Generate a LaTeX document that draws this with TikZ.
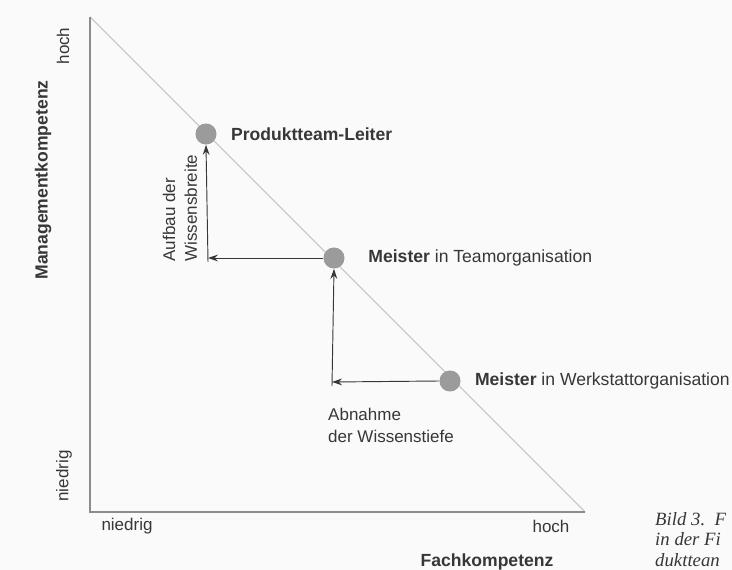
\documentclass[tikz,border=0pt]{standalone}
\usepackage{fontspec}
\setmainfont{Liberation Sans}
\newfontfamily\captionfont{Liberation Serif}
\usetikzlibrary{arrows.meta,positioning}
\definecolor{paperbg}{RGB}{250,250,250}
\definecolor{inkgray}{RGB}{55,55,55}
\definecolor{axisgray}{RGB}{140,140,140}
\definecolor{diaggray}{RGB}{195,195,195}
\definecolor{dotgray}{RGB}{155,155,155}
\tikzset{
    axisline/.style={draw=axisgray, line width=0.9pt},
    diagline/.style={draw=diaggray, line width=0.9pt},
    roledot/.style={circle, fill=dotgray, minimum size=18pt, inner sep=0pt},
    rolelabel/.style={text=inkgray, font=\fontsize{15}{18}\selectfont, anchor=west, inner sep=0pt},
    axislabel/.style={text=inkgray, font=\fontsize{14.5}{17}\selectfont, inner sep=0pt},
    axistitle/.style={text=inkgray, font=\bfseries\fontsize{15}{18}\selectfont, inner sep=0pt},
    changelabel/.style={text=inkgray, font=\fontsize{14.5}{18.5}\selectfont, align=left, inner sep=0pt},
    shiftarrow/.style={-{Stealth[length=3mm, width=2mm]}, draw=inkgray, line width=0.8pt}
}

\begin{document}
\begin{tikzpicture}[x=0.03cm, y=-0.03cm]
    \fill[paperbg] (0,0) rectangle (732,570);
    \useasboundingbox (0,0) rectangle (732,570);
    \clip (0,0) rectangle (732,570);

    % axes and diagonal
    \coordinate (top) at (90,17);
    \coordinate (origin) at (90,512);
    \coordinate (right) at (585,512);
    \draw[diagline] (top) -- (right);
    \draw[axisline] (top) -- (origin) -- (right);

    % roles
    \node[roledot] (leiter) at (206,134) {};
    \node[roledot] (team) at (334,258) {};
    \node[roledot] (werk) at (450,381) {};
    \node[rolelabel, right=12pt of leiter] (leiterlbl) {\textbf{Produktteam-Leiter}};
    \node[rolelabel, right=20pt of team] (teamlbl) {\textbf{Meister} in Teamorganisation};
    \node[rolelabel, right=12pt of werk] (werklbl) {\textbf{Meister} in Werkstattorganisation};

    % shifts
    \coordinate (breitecorner) at (208,258);
    \coordinate (breitestart) at (208,262);
    \coordinate (tiefecorner) at (332,382);
    \coordinate (tiefestart) at (332,386);
    \draw[shiftarrow] (team.west) -- (breitecorner);
    \draw[shiftarrow] (breitestart) -- (leiter.south);
    \draw[shiftarrow] (werk.west) -- (tiefecorner);
    \draw[shiftarrow] (tiefestart) -- (team.south);
    \node[changelabel, rotate=90] (breitelbl) at (180,208) {Aufbau der\\Wissensbreite};
    \node[changelabel, anchor=north west] (tiefelbl) at (328,408) {Abnahme\\der Wissenstiefe};

    % axis labels
    \node[axistitle, rotate=90] (ytitle) at (43,180) {Managementkompetenz};
    \node[axislabel, rotate=90] (yhoch) at (63,46) {hoch};
    \node[axislabel, rotate=90] (yniedrig) at (64,476) {niedrig};
    \node[axislabel] (xniedrig) at (127,526) {niedrig};
    \node[axislabel] (xhoch) at (551,526) {hoch};
    \node[axistitle] (xtitle) at (487,562) {Fachkompetenz};

    % caption, cut at the edge
    \node[text=inkgray, font=\captionfont\itshape\fontsize{16}{17.5}\selectfont, anchor=north west, align=left, inner sep=0pt] (caption) at (655,512) {Bild 3.\ \ F\\in der Fi\\dukttean};
\end{tikzpicture}
\end{document}
